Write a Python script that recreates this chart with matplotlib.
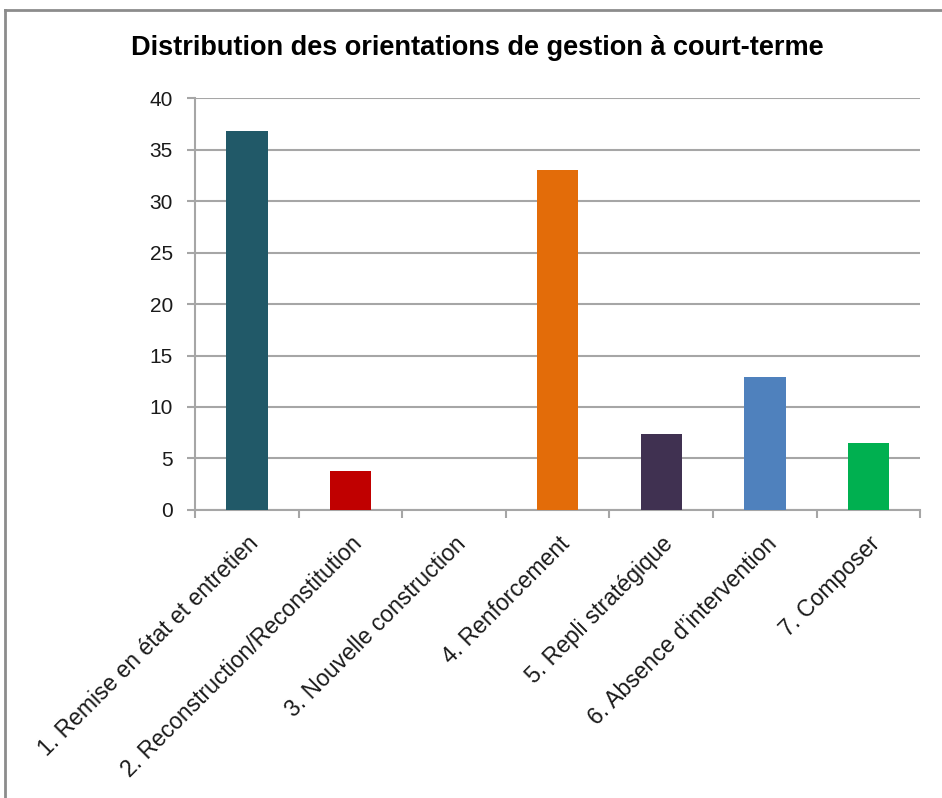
import numpy as np
import matplotlib.pyplot as plt
from matplotlib.lines import Line2D

# ---- données ----
categories = ["1. Remise en état et entretien",
              "2. Reconstruction/Reconstitution",
              "3. Nouvelle construction",
              "4. Renforcement",
              "5. Repli stratégique",
              "6. Absence d’intervention",
              "7. Composer"]
valeurs = [36.8, 3.8, 0, 33.0, 7.4, 12.9, 6.5]
couleurs = ["#215968", "#C00000", "#E36C09", "#E36C09",
            "#403151", "#4F81BD", "#00B050"]
y_ticks = [0, 5, 10, 15, 20, 25, 30, 35, 40]

plt.rcParams['font.family'] = ['Liberation Sans', 'DejaVu Sans']
grid_col = "#A6A6A6"
txt_col = "#1A1A1A"

fig = plt.figure(figsize=(9.42, 7.98), dpi=100)
ax = fig.add_axes([0.207, 0.361, 0.770, 0.516])

x = np.arange(len(categories))
ax.bar(x, valeurs, width=0.4, color=couleurs, zorder=3)

ax.set_xlim(-0.5, len(categories) - 0.5)
ax.set_ylim(0, 40)
ax.set_yticks(y_ticks)
ax.set_yticklabels([str(v) for v in y_ticks], fontsize=15, color=txt_col)
ax.yaxis.grid(True, color=grid_col, linewidth=1.5, zorder=0)

ax.set_xticks(x)
ax.set_xticklabels(categories, rotation=45, ha='right',
                   rotation_mode='anchor', fontsize=16.5, color=txt_col)
ax.tick_params(axis='x', which='major', length=0, pad=16)
ax.set_xticks(np.arange(-0.5, len(categories)), minor=True)
ax.tick_params(axis='x', which='minor', length=6, color=grid_col, width=1.5)
ax.tick_params(axis='y', length=6, color=grid_col, width=1.5, pad=10)

for s in ["top", "right"]:
    ax.spines[s].set_visible(False)
for s in ["left", "bottom"]:
    ax.spines[s].set_color(grid_col)
    ax.spines[s].set_linewidth(1.5)

fig.text(0.507, 0.94, "Distribution des orientations de gestion à court-terme",
         ha='center', va='center', fontsize=19.5, fontweight='bold', color="#000000")

# bordure du graphique (haut et gauche)
fig.add_artist(Line2D([0.005, 1.0], [0.988, 0.988], color="#8C8C8C",
                      linewidth=2, transform=fig.transFigure))
fig.add_artist(Line2D([0.005, 0.005], [0.0, 0.988], color="#8C8C8C",
                      linewidth=2, transform=fig.transFigure))

fig.savefig("out.png", dpi=100)
